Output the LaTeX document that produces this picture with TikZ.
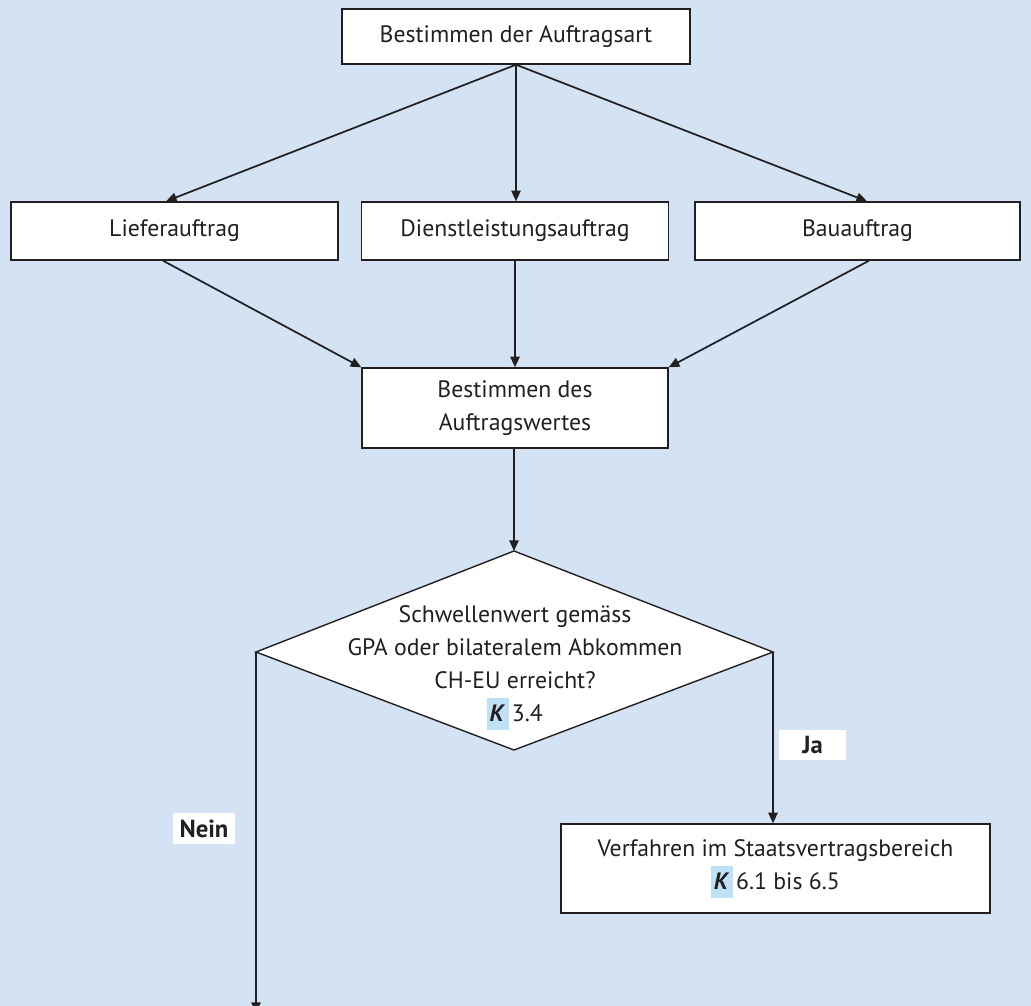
\documentclass[tikz,border=0pt]{standalone}
\usepackage{fontspec}
\setmainfont{PT Sans}
\usetikzlibrary{arrows.meta}
\definecolor{bgblue}{HTML}{D3E3F3}
\definecolor{kblue}{HTML}{BFE1F6}
\definecolor{ink}{HTML}{231F20}
\newcommand\kmark{{\setlength{\fboxsep}{0pt}\colorbox{kblue}{\rule[-0.35em]{0pt}{1.35em}\kern2pt\textbf{\textit{K}}\kern3pt}}\kern2pt}
\begin{document}
\begin{tikzpicture}[x=0.75pt,y=-0.75pt,
  font=\fontsize{17.8pt}{25pt}\selectfont, text=ink,
  box/.style={draw=ink, line width=1.05pt, fill=white, align=center, inner sep=0pt},
  arr/.style={draw=ink, line width=1.3pt, -{Triangle[length=8pt,width=7pt]}},
  lbl/.style={fill=white, inner sep=0pt, font=\fontsize{18.5pt}{25pt}\selectfont\bfseries}]
\fill[bgblue] (0,0) rectangle (1031,1006);
\useasboundingbox (0,0) rectangle (1031,1006);

\node[box, minimum width=348*0.75pt, minimum height=55*0.75pt] (art) at (516,36.5) {Bestimmen der Auftragsart};
\node[box, minimum width=327*0.75pt, minimum height=58*0.75pt] (lief) at (174.5,231) {Lieferauftrag};
\node[box, minimum width=307*0.75pt, minimum height=58*0.75pt] (dienst) at (515,231) {Dienstleistungsauftrag};
\node[box, minimum width=325*0.75pt, minimum height=58*0.75pt] (bau) at (857.5,231) {Bauauftrag};
\node[box, minimum width=306*0.75pt, minimum height=80*0.75pt] (wert) at (515,408) {Bestimmen des\\Auftragswertes};

% diamond
\coordinate (dtop) at (514,551);
\coordinate (dleft) at (256,652);
\coordinate (dright) at (773,652);
\coordinate (dbot) at (514,750);
\draw[ink, line width=1.05pt, fill=white] (dtop) -- (dright) -- (dbot) -- (dleft) -- cycle;
\node[align=center, inner sep=0pt, font=\fontsize{17.8pt}{24.75pt}\selectfont] (dtext) at (515,668) {Schwellenwert gemäss\\GPA oder bilateralem Abkommen\\CH-EU erreicht?\\\kmark 3.4};

\node[box, minimum width=429*0.75pt, minimum height=89*0.75pt] (verf) at (775.5,868.5) {Verfahren im Staatsvertragsbereich\\\kmark 6.1 bis 6.5};

\coordinate (nend) at (256,1013);

\node[lbl, minimum width=67*0.75pt, minimum height=30*0.75pt] (ja) at (812.5,745) {Ja};
\node[lbl, minimum width=62*0.75pt, minimum height=31*0.75pt] (nein) at (204,828.5) {Nein};

% connectors
\draw[arr] (art.south) -- (lief.north -| 166,0);
\draw[arr] (art.south) -- (dienst.north -| art.south);
\draw[arr] (art.south) -- (bau.north -| 867,0);
\draw[arr] (lief.south -| 163,0) -- (wert.north west);
\draw[arr] (dienst.south -| wert.north) -- (wert.north);
\draw[arr] (bau.south -| 869,0) -- (wert.north east);
\draw[arr] (wert.south -| dtop) -- (dtop);
\draw[arr] (dright) -- (verf.north -| dright);
\draw[arr] (dleft) -- (nend);
\end{tikzpicture}
\end{document}
